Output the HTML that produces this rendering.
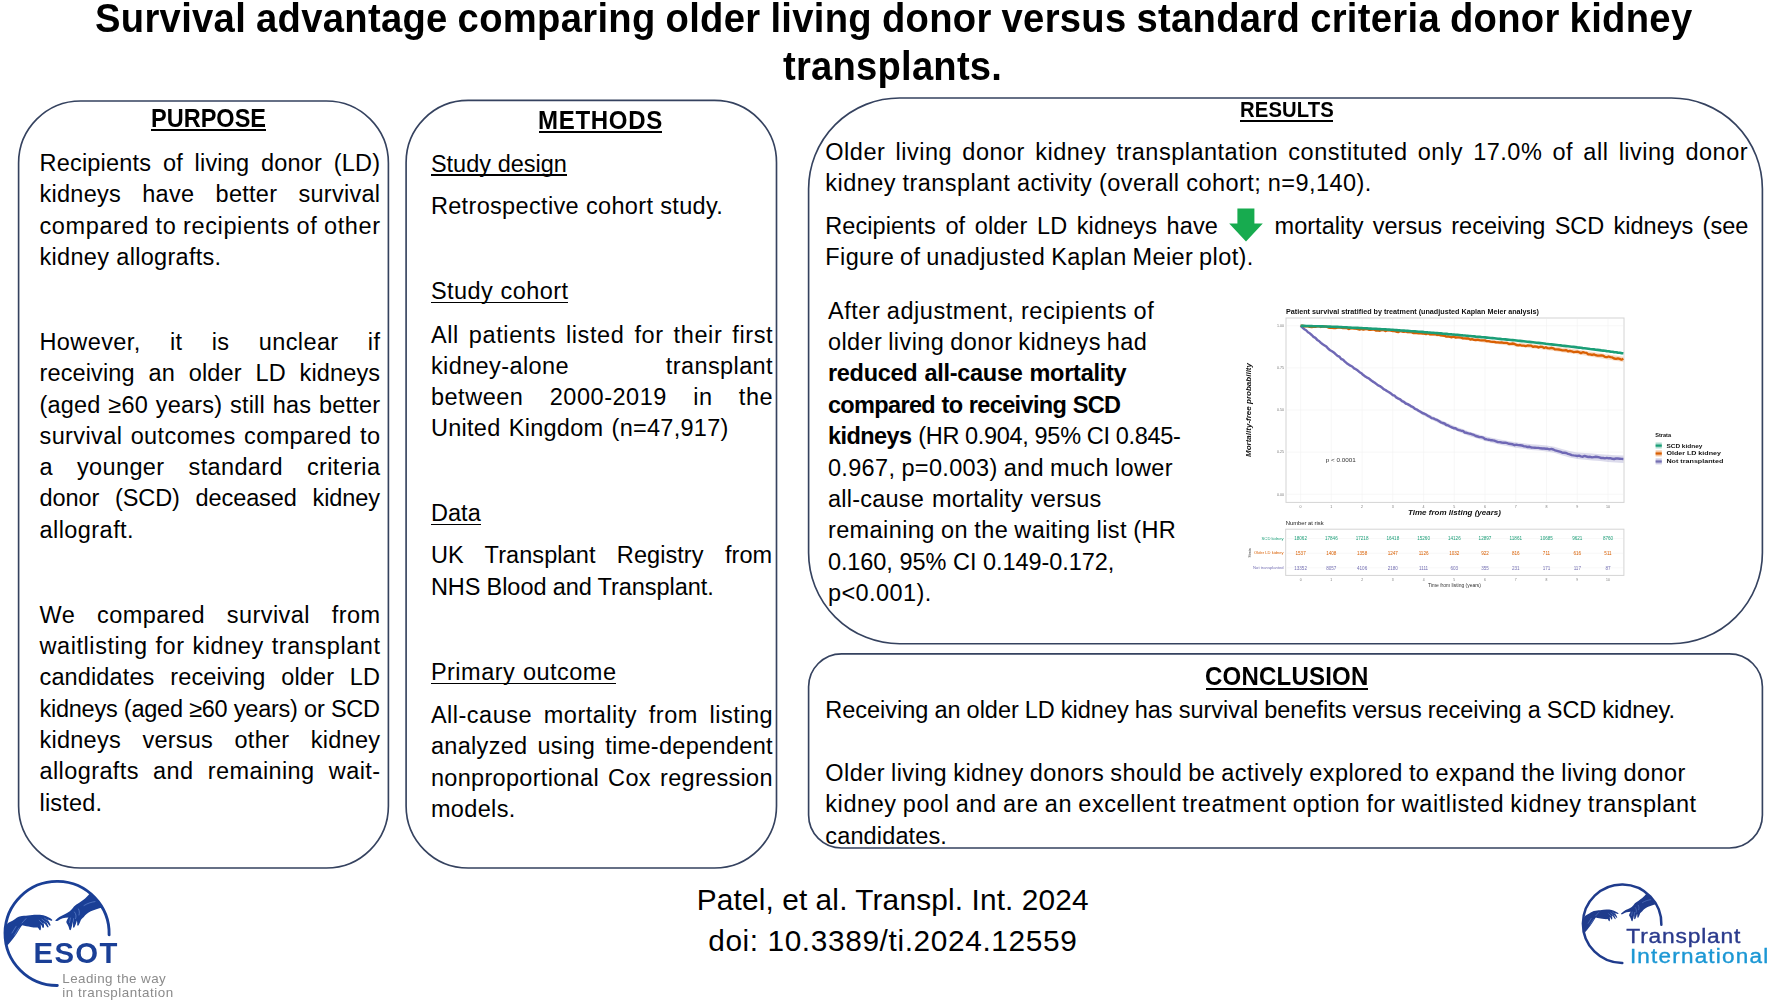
<!DOCTYPE html>
<html lang="en">
<head>
<meta charset="utf-8">
<title>Survival advantage comparing older living donor versus standard criteria donor kidney transplants</title>
<style>
html,body{margin:0;padding:0;background:#fff;}
body{width:1772px;height:1003px;overflow:hidden;font-family:"Liberation Sans",Arial,sans-serif;color:#000;}
#page{position:relative;width:1772px;height:1003px;overflow:hidden;background:#fff;}
.t{position:absolute;white-space:pre;line-height:30px;height:30px;transform-origin:0 50%;color:#000;}
.u{position:absolute;background:#000;}
svg{position:absolute;overflow:visible;}
header,section,footer{display:block;margin:0;padding:0;}
</style>
</head>
<body>
<div id="page">
<!-- rounded panels -->
<svg style="left:0;top:0" width="1772" height="1003" viewBox="0 0 1772 1003" fill="none" stroke="#35425f" stroke-width="1.65">
<rect x="18.6" y="101.0" width="369.8" height="767.0" rx="62" ry="62"/>
<rect x="406.1" y="100.4" width="370.4" height="767.6" rx="62" ry="62"/>
<rect x="808.6" y="98.0" width="953.8" height="545.7" rx="91" ry="91"/>
<rect x="808.6" y="653.8" width="953.8" height="194.2" rx="33" ry="33"/>
</svg>

<!-- text lines -->
<header id="title">
<div class="t" style="left:95.0px;top:3.8px;font-size:40.2px;letter-spacing:0.330px;word-spacing:-1.031px;font-weight:bold;transform:scaleX(0.95)">Survival advantage comparing older living donor versus standard criteria donor kidney</div>
<div class="t" style="left:783.0px;top:52.3px;font-size:40.2px;letter-spacing:0.240px;word-spacing:0.000px;font-weight:bold;transform:scaleX(0.95)">transplants.</div>
</header>
<section id="purpose" aria-label="Purpose">
<div class="t" style="left:150.7px;top:102.7px;font-size:25.3px;letter-spacing:0.000px;word-spacing:0.000px;font-weight:bold;transform:scaleX(0.93)">PURPOSE</div>
<div class="u" style="left:151.4px;top:129.2px;width:114.2px;height:2.0px"></div>
<div class="t" style="left:39.5px;top:147.9px;font-size:23.5px;letter-spacing:0.205px;word-spacing:4.889px">Recipients of living donor (LD)</div>
<div class="t" style="left:39.5px;top:179.2px;font-size:23.5px;letter-spacing:0.263px;word-spacing:14.475px">kidneys have better survival</div>
<div class="t" style="left:39.5px;top:210.5px;font-size:23.5px;letter-spacing:0.610px;word-spacing:-0.440px">compared to recipients of other</div>
<div class="t" style="left:39.5px;top:241.8px;font-size:23.5px;letter-spacing:0.294px;word-spacing:0.262px">kidney allografts.</div>
<div class="t" style="left:39.5px;top:326.9px;font-size:23.5px;letter-spacing:0.394px;word-spacing:22.359px">However, it is unclear if</div>
<div class="t" style="left:39.5px;top:358.2px;font-size:23.5px;letter-spacing:0.120px;word-spacing:7.216px">receiving an older LD kidneys</div>
<div class="t" style="left:39.5px;top:389.5px;font-size:23.5px;letter-spacing:0.172px;word-spacing:1.197px">(aged ≥60 years) still has better</div>
<div class="t" style="left:39.5px;top:420.8px;font-size:23.5px;letter-spacing:0.394px;word-spacing:1.417px">survival outcomes compared to</div>
<div class="t" style="left:39.5px;top:452.1px;font-size:23.5px;letter-spacing:0.362px;word-spacing:17.184px">a younger standard criteria</div>
<div class="t" style="left:39.5px;top:483.4px;font-size:23.5px;letter-spacing:-0.098px;word-spacing:9.413px">donor (SCD) deceased kidney</div>
<div class="t" style="left:39.5px;top:514.7px;font-size:23.5px;letter-spacing:0.441px;word-spacing:0.000px">allograft.</div>
<div class="t" style="left:39.5px;top:599.7px;font-size:23.5px;letter-spacing:0.431px;word-spacing:14.861px">We compared survival from</div>
<div class="t" style="left:39.5px;top:631.0px;font-size:23.5px;letter-spacing:0.567px;word-spacing:0.782px">waitlisting for kidney transplant</div>
<div class="t" style="left:39.5px;top:662.3px;font-size:23.5px;letter-spacing:0.133px;word-spacing:9.063px">candidates receiving older LD</div>
<div class="t" style="left:39.5px;top:693.6px;font-size:23.5px;letter-spacing:-0.249px;word-spacing:0.143px">kidneys (aged ≥60 years) or SCD</div>
<div class="t" style="left:39.5px;top:724.9px;font-size:23.5px;letter-spacing:0.247px;word-spacing:14.698px">kidneys versus other kidney</div>
<div class="t" style="left:39.5px;top:756.2px;font-size:23.5px;letter-spacing:0.402px;word-spacing:7.298px">allografts and remaining wait-</div>
<div class="t" style="left:39.5px;top:787.5px;font-size:23.5px;letter-spacing:0.185px;word-spacing:0.000px">listed.</div>
</section>
<section id="methods" aria-label="Methods">
<div class="t" style="left:537.8px;top:104.5px;font-size:25.3px;letter-spacing:0.734px;word-spacing:0.000px;font-weight:bold;transform:scaleX(0.95)">METHODS</div>
<div class="u" style="left:539.0px;top:131.0px;width:123.0px;height:2.0px"></div>
<div class="t" style="left:430.9px;top:148.5px;font-size:23.5px;letter-spacing:-0.004px;word-spacing:0.170px">Study design</div>
<div class="u" style="left:430.6px;top:174.3px;width:136.2px;height:1.7px"></div>
<div class="t" style="left:430.9px;top:190.8px;font-size:23.5px;letter-spacing:0.336px;word-spacing:0.131px">Retrospective cohort study.</div>
<div class="t" style="left:430.9px;top:275.8px;font-size:23.5px;letter-spacing:0.446px;word-spacing:0.360px">Study cohort</div>
<div class="u" style="left:430.6px;top:301.6px;width:137.4px;height:1.7px"></div>
<div class="t" style="left:430.9px;top:319.6px;font-size:23.5px;letter-spacing:0.623px;word-spacing:2.718px">All patients listed for their first</div>
<div class="t" style="left:430.9px;top:350.7px;font-size:23.5px;letter-spacing:0.400px;word-spacing:89.920px">kidney-alone transplant</div>
<div class="t" style="left:430.9px;top:381.8px;font-size:23.5px;letter-spacing:0.527px;word-spacing:19.268px">between 2000-2019 in the</div>
<div class="t" style="left:430.9px;top:412.9px;font-size:23.5px;letter-spacing:0.277px;word-spacing:1.395px">United Kingdom (n=47,917)</div>
<div class="t" style="left:430.9px;top:498.0px;font-size:23.5px;letter-spacing:0.087px;word-spacing:0.000px">Data</div>
<div class="u" style="left:430.6px;top:523.8px;width:50.1px;height:1.7px"></div>
<div class="t" style="left:430.9px;top:540.4px;font-size:23.5px;letter-spacing:0.070px;word-spacing:14.769px">UK Transplant Registry from</div>
<div class="t" style="left:430.9px;top:571.5px;font-size:23.5px;letter-spacing:-0.054px;word-spacing:-0.237px">NHS Blood and Transplant.</div>
<div class="t" style="left:430.9px;top:657.0px;font-size:23.5px;letter-spacing:0.486px;word-spacing:0.693px">Primary outcome</div>
<div class="u" style="left:430.6px;top:682.8px;width:185.3px;height:1.7px"></div>
<div class="t" style="left:430.9px;top:700.3px;font-size:23.5px;letter-spacing:0.506px;word-spacing:4.637px">All-cause mortality from listing</div>
<div class="t" style="left:430.9px;top:731.4px;font-size:23.5px;letter-spacing:0.316px;word-spacing:3.112px">analyzed using time-dependent</div>
<div class="t" style="left:430.9px;top:762.5px;font-size:23.5px;letter-spacing:0.314px;word-spacing:2.346px">nonproportional Cox regression</div>
<div class="t" style="left:430.9px;top:793.7px;font-size:23.5px;letter-spacing:0.353px;word-spacing:0.000px">models.</div>
</section>
<section id="results" aria-label="Results">
<div class="t" style="left:1239.5px;top:94.6px;font-size:21.8px;letter-spacing:0.136px;word-spacing:0.000px;font-weight:bold;transform:scaleX(0.93)">RESULTS</div>
<div class="u" style="left:1240.4px;top:119.6px;width:92.9px;height:2.0px"></div>
<div class="t" style="left:825.3px;top:137.4px;font-size:23.5px;letter-spacing:0.504px;word-spacing:3.203px">Older living donor kidney transplantation constituted only 17.0% of all living donor</div>
<div class="t" style="left:825.3px;top:168.2px;font-size:23.5px;letter-spacing:0.438px;word-spacing:-0.248px">kidney transplant activity (overall cohort; n=9,140).</div>
<div class="t" style="left:825.3px;top:211.4px;font-size:23.5px;letter-spacing:0.074px;word-spacing:3.016px">Recipients of older LD kidneys have</div>
<div class="t" style="left:1274.6px;top:211.4px;font-size:23.5px;letter-spacing:0.008px;word-spacing:2.729px">mortality versus receiving SCD kidneys (see</div>
<div class="t" style="left:825.3px;top:242.3px;font-size:23.5px;letter-spacing:0.392px;word-spacing:-1.061px">Figure of unadjusted Kaplan Meier plot).</div>
<div class="t" style="left:827.9px;top:295.6px;font-size:23.5px;letter-spacing:0.561px;word-spacing:-0.636px">After adjustment, recipients of</div>
<div class="t" style="left:827.9px;top:327.0px;font-size:23.5px;letter-spacing:0.437px;word-spacing:-1.146px">older living donor kidneys had</div>
<div class="t" style="left:827.9px;top:358.4px;font-size:23.5px;letter-spacing:-0.270px;word-spacing:0.702px;font-weight:bold">reduced all-cause mortality</div>
<div class="t" style="left:827.9px;top:389.8px;font-size:23.5px;letter-spacing:-0.643px;word-spacing:0.549px;font-weight:bold">compared to receiving SCD</div>
<div class="t" style="left:827.9px;top:421.2px;font-size:23.5px;letter-spacing:-0.536px;word-spacing:0.000px;font-weight:bold">kidneys</div>
<div class="t" style="left:918.2px;top:421.2px;font-size:23.5px;letter-spacing:-0.301px;word-spacing:-0.218px">(HR 0.904, 95% CI 0.845-</div>
<div class="t" style="left:827.9px;top:452.6px;font-size:23.5px;letter-spacing:0.347px;word-spacing:-0.794px">0.967, p=0.003) and much lower</div>
<div class="t" style="left:827.9px;top:484.0px;font-size:23.5px;letter-spacing:0.249px;word-spacing:1.027px">all-cause mortality versus</div>
<div class="t" style="left:827.9px;top:515.4px;font-size:23.5px;letter-spacing:0.411px;word-spacing:-0.706px">remaining on the waiting list (HR</div>
<div class="t" style="left:827.9px;top:546.8px;font-size:23.5px;letter-spacing:-0.079px;word-spacing:0.284px">0.160, 95% CI 0.149-0.172,</div>
<div class="t" style="left:827.9px;top:578.2px;font-size:23.5px;letter-spacing:0.443px;word-spacing:0.000px">p&lt;0.001).</div>
</section>
<section id="conclusion" aria-label="Conclusion">
<div class="t" style="left:1204.8px;top:661.2px;font-size:25.3px;letter-spacing:0.199px;word-spacing:0.000px;font-weight:bold;transform:scaleX(0.95)">CONCLUSION</div>
<div class="u" style="left:1205.5px;top:687.7px;width:162.4px;height:2.0px"></div>
<div class="t" style="left:825.3px;top:694.6px;font-size:23.5px;letter-spacing:-0.013px;word-spacing:-0.473px">Receiving an older LD kidney has survival benefits versus receiving a SCD kidney.</div>
<div class="t" style="left:825.3px;top:757.8px;font-size:23.5px;letter-spacing:0.428px;word-spacing:-0.857px">Older living kidney donors should be actively explored to expand the living donor</div>
<div class="t" style="left:825.3px;top:789.2px;font-size:23.5px;letter-spacing:0.559px;word-spacing:-0.840px">kidney pool and are an excellent treatment option for waitlisted kidney transplant</div>
<div class="t" style="left:825.3px;top:820.6px;font-size:23.5px;letter-spacing:0.140px;word-spacing:0.000px">candidates.</div>
</section>
<footer id="citation">
<div class="t" style="left:696.7px;top:884.9px;font-size:29.8px;letter-spacing:0.190px;word-spacing:-0.314px">Patel, et al. Transpl. Int. 2024</div>
<div class="t" style="left:708.2px;top:925.5px;font-size:29.8px;letter-spacing:0.636px;word-spacing:-0.242px">doi: 10.3389/ti.2024.12559</div>
</footer>
<!-- green down arrow -->
<svg style="left:1229px;top:208px" width="34" height="34" viewBox="0 0 34 34"><polygon points="8.4,0.5 25.4,0.5 25.4,15.6 33.8,15.6 17,33.6 0.2,15.6 8.4,15.6" fill="#17ab4f"/></svg>
<!-- Kaplan Meier figure -->
<svg style="left:0;top:0" width="1772" height="1003" viewBox="0 0 1772 1003" font-family="'Liberation Sans',Arial,sans-serif">
<g style="filter:blur(0.55px)">
<text x="1286" y="314.2" font-size="6.4" font-weight="bold" fill="#111" textLength="253" lengthAdjust="spacingAndGlyphs">Patient survival stratified by treatment (unadjusted Kaplan Meier analysis)</text>
<rect x="1286.0" y="318.0" width="338.0" height="184.39999999999998" fill="#fff" stroke="#d4d4d4" stroke-width="1"/>
<path d="M1300.6,319.0V501.4M1331.3,319.0V501.4M1362.1,319.0V501.4M1392.8,319.0V501.4M1423.6,319.0V501.4M1454.3,319.0V501.4M1485.0,319.0V501.4M1515.8,319.0V501.4M1546.5,319.0V501.4M1577.3,319.0V501.4M1608.0,319.0V501.4M1287.0,325.8H1623.0M1287.0,367.9H1623.0M1287.0,410.0H1623.0M1287.0,452.1H1623.0M1287.0,494.2H1623.0" stroke="#f3f3f3" stroke-width="0.7" fill="none"/>
<text x="1284" y="327.1" font-size="3.6" fill="#777" text-anchor="end">1.00</text>
<text x="1284" y="369.2" font-size="3.6" fill="#777" text-anchor="end">0.75</text>
<text x="1284" y="411.3" font-size="3.6" fill="#777" text-anchor="end">0.50</text>
<text x="1284" y="453.4" font-size="3.6" fill="#777" text-anchor="end">0.25</text>
<text x="1284" y="495.5" font-size="3.6" fill="#777" text-anchor="end">0.00</text>
<text x="1300.6" y="507.6" font-size="3.6" fill="#777" text-anchor="middle">0</text>
<text x="1331.3" y="507.6" font-size="3.6" fill="#777" text-anchor="middle">1</text>
<text x="1362.1" y="507.6" font-size="3.6" fill="#777" text-anchor="middle">2</text>
<text x="1392.8" y="507.6" font-size="3.6" fill="#777" text-anchor="middle">3</text>
<text x="1423.6" y="507.6" font-size="3.6" fill="#777" text-anchor="middle">4</text>
<text x="1454.3" y="507.6" font-size="3.6" fill="#777" text-anchor="middle">5</text>
<text x="1485.0" y="507.6" font-size="3.6" fill="#777" text-anchor="middle">6</text>
<text x="1515.8" y="507.6" font-size="3.6" fill="#777" text-anchor="middle">7</text>
<text x="1546.5" y="507.6" font-size="3.6" fill="#777" text-anchor="middle">8</text>
<text x="1577.3" y="507.6" font-size="3.6" fill="#777" text-anchor="middle">9</text>
<text x="1608.0" y="507.6" font-size="3.6" fill="#777" text-anchor="middle">10</text>
<text x="1454.5" y="514.9" font-size="7.6" font-weight="bold" font-style="italic" fill="#111" text-anchor="middle" textLength="93" lengthAdjust="spacingAndGlyphs">Time from listing (years)</text>
<text transform="translate(1251.2,410) rotate(-90)" font-size="7.4" font-weight="bold" font-style="italic" fill="#111" text-anchor="middle" textLength="94" lengthAdjust="spacingAndGlyphs">Mortality-free probability</text>
<text x="1325.8" y="462" font-size="5.2" fill="#333" textLength="30" lengthAdjust="spacingAndGlyphs">p &lt; 0.0001</text>
<polygon points="1300.6,325.1 1308.3,331.4 1316.0,337.6 1323.7,343.8 1331.3,349.9 1339.0,355.8 1346.7,361.7 1354.4,367.1 1362.1,372.5 1369.8,377.9 1377.4,383.3 1385.1,388.4 1392.8,393.5 1400.5,398.2 1408.2,402.9 1415.9,407.4 1423.6,411.9 1431.2,415.6 1438.9,419.3 1446.6,422.6 1454.3,425.9 1462.0,428.8 1469.7,431.7 1477.4,433.9 1485.0,436.2 1492.7,437.9 1500.4,439.6 1508.1,441.0 1515.8,442.3 1523.5,443.3 1531.1,444.2 1538.8,444.8 1546.5,445.4 1554.2,446.7 1561.9,449.1 1569.6,451.0 1577.3,452.5 1584.9,453.1 1592.6,453.6 1600.3,454.2 1608.0,454.8 1615.7,455.2 1623.4,455.6 1623.4,463.0 1615.7,462.4 1608.0,461.9 1600.3,461.1 1592.6,460.4 1584.9,459.7 1577.3,459.1 1569.6,457.4 1561.9,455.3 1554.2,452.8 1546.5,451.4 1538.8,450.6 1531.1,449.9 1523.5,448.8 1515.8,447.7 1508.1,446.2 1500.4,444.7 1492.7,442.9 1485.0,441.0 1477.4,438.6 1469.7,436.2 1462.0,433.2 1454.3,430.1 1446.6,426.7 1438.9,423.3 1431.2,419.4 1423.6,415.5 1415.9,410.9 1408.2,406.3 1400.5,401.4 1392.8,396.6 1385.1,391.3 1377.4,386.1 1369.8,380.6 1362.1,375.0 1354.4,369.5 1346.7,364.0 1339.0,357.9 1331.3,351.9 1323.7,345.6 1316.0,339.2 1308.3,332.9 1300.6,326.5" fill="#7570b3" opacity="0.25"/>
<polygon points="1300.6,325.3 1308.3,325.7 1316.0,326.0 1323.7,326.4 1331.3,326.8 1339.0,327.2 1346.7,327.6 1354.4,328.0 1362.1,328.4 1369.8,328.8 1377.4,329.2 1385.1,329.5 1392.8,329.9 1400.5,330.4 1408.2,331.0 1415.9,331.5 1423.6,332.0 1431.2,332.9 1438.9,333.7 1446.6,334.5 1454.3,335.4 1462.0,336.3 1469.7,337.3 1477.4,338.2 1485.0,339.2 1492.7,340.0 1500.4,340.9 1508.1,341.7 1515.8,342.5 1523.5,343.3 1531.1,344.1 1538.8,344.9 1546.5,345.7 1554.2,346.6 1561.9,347.6 1569.6,348.6 1577.3,349.5 1584.9,350.7 1592.6,351.9 1600.3,353.2 1608.0,354.4 1615.7,355.5 1623.4,356.7 1623.4,362.1 1615.7,360.8 1608.0,359.5 1600.3,358.2 1592.6,356.9 1584.9,355.6 1577.3,354.3 1569.6,353.2 1561.9,352.2 1554.2,351.1 1546.5,350.0 1538.8,349.1 1531.1,348.2 1523.5,347.3 1515.8,346.5 1508.1,345.5 1500.4,344.6 1492.7,343.6 1485.0,342.7 1477.4,341.6 1469.7,340.6 1462.0,339.5 1454.3,338.5 1446.6,337.5 1438.9,336.6 1431.2,335.7 1423.6,334.7 1415.9,334.1 1408.2,333.4 1400.5,332.8 1392.8,332.1 1385.1,331.7 1377.4,331.2 1369.8,330.7 1362.1,330.3 1354.4,329.7 1346.7,329.2 1339.0,328.7 1331.3,328.2 1323.7,327.7 1316.0,327.3 1308.3,326.8 1300.6,326.3" fill="#d95f02" opacity="0.22"/>
<path d="M1300.6,325.8L1302.4,327.5L1304.3,329.2L1306.1,330.2L1308.0,332.3L1309.8,333.3L1311.7,335.0L1313.5,336.9L1315.4,337.9L1317.2,339.9L1319.0,341.0L1320.9,342.9L1322.7,344.3L1324.6,345.5L1326.4,346.6L1328.3,348.8L1330.1,350.2L1332.0,351.2L1333.8,352.4L1335.6,354.2L1337.5,355.8L1339.3,356.6L1341.2,359.0L1343.0,359.6L1344.9,361.6L1346.7,363.2L1348.6,364.5L1350.4,365.7L1352.2,366.5L1354.1,368.4L1355.9,369.3L1357.8,370.6L1359.6,372.2L1361.5,373.3L1363.3,375.1L1365.2,376.4L1367.0,377.6L1368.8,378.4L1370.7,380.0L1372.5,381.4L1374.4,382.5L1376.2,383.9L1378.1,385.4L1379.9,386.1L1381.8,387.4L1383.6,389.1L1385.4,390.0L1387.3,391.3L1389.1,392.2L1391.0,393.5L1392.8,395.2L1394.7,395.7L1396.5,397.7L1398.4,398.6L1400.2,399.4L1402.0,401.1L1403.9,401.9L1405.7,403.5L1407.6,404.1L1409.4,405.1L1411.3,406.4L1413.1,407.1L1415.0,408.8L1416.8,409.5L1418.6,410.7L1420.5,411.8L1422.3,413.0L1424.2,413.7L1426.0,414.5L1427.9,415.9L1429.7,416.6L1431.6,418.1L1433.4,418.4L1435.2,419.3L1437.1,419.9L1438.9,421.0L1440.8,422.3L1442.6,423.0L1444.5,423.5L1446.3,425.0L1448.2,425.4L1450.0,426.5L1451.8,427.3L1453.7,428.2L1455.5,428.2L1457.4,429.6L1459.2,430.2L1461.1,430.7L1462.9,430.9L1464.8,432.5L1466.6,432.8L1468.4,433.4L1470.3,433.7L1472.1,434.3L1474.0,434.9L1475.8,436.0L1477.7,436.5L1479.5,437.1L1481.4,437.1L1483.2,437.6L1485.0,439.0L1486.9,439.4L1488.7,439.7L1490.6,440.2L1492.4,440.3L1494.3,440.7L1496.1,441.4L1498.0,442.1L1499.8,442.1L1501.6,442.5L1503.5,442.7L1505.3,442.6L1507.2,443.2L1509.0,443.8L1510.9,444.0L1512.7,444.3L1514.6,445.2L1516.4,444.7L1518.2,445.1L1520.1,445.2L1521.9,445.5L1523.8,446.2L1525.6,446.4L1527.5,447.0L1529.3,446.7L1531.1,447.5L1533.0,447.6L1534.8,447.7L1536.7,447.9L1538.5,447.9L1540.4,448.3L1542.2,448.5L1544.1,448.5L1545.9,448.7L1547.7,448.8L1549.6,449.4L1551.4,448.9L1553.3,449.5L1555.1,450.3L1557.0,450.8L1558.8,451.3L1560.7,451.9L1562.5,452.8L1564.3,452.7L1566.2,453.0L1568.0,453.9L1569.9,454.3L1571.7,455.1L1573.6,455.4L1575.4,455.6L1577.3,456.0L1579.1,455.6L1580.9,456.4L1582.8,456.7L1584.6,455.9L1586.5,456.5L1588.3,457.0L1590.2,456.8L1592.0,457.4L1593.9,457.1L1595.7,456.8L1597.5,457.0L1599.4,457.4L1601.2,458.0L1603.1,458.0L1604.9,458.4L1606.8,457.9L1608.6,458.3L1610.5,458.2L1612.3,458.8L1614.1,459.0L1616.0,458.5L1617.8,458.5L1619.7,458.7L1621.5,458.9L1623.4,459.0" stroke="#6f68b5" stroke-width="2.4" fill="none" stroke-linejoin="round"/>
<path d="M1300.6,325.8L1302.4,325.6L1304.3,326.4L1306.1,326.1L1308.0,326.4L1309.8,326.9L1311.7,327.0L1313.5,326.8L1315.4,326.9L1317.2,326.4L1319.0,326.2L1320.9,327.0L1322.7,326.4L1324.6,326.5L1326.4,326.6L1328.3,327.5L1330.1,327.8L1332.0,327.9L1333.8,328.0L1335.6,328.1L1337.5,327.7L1339.3,327.4L1341.2,327.6L1343.0,328.2L1344.9,328.1L1346.7,328.0L1348.6,329.1L1350.4,328.4L1352.2,328.2L1354.1,328.5L1355.9,328.6L1357.8,329.1L1359.6,329.6L1361.5,328.9L1363.3,329.6L1365.2,329.1L1367.0,329.0L1368.8,329.8L1370.7,329.9L1372.5,329.3L1374.4,329.7L1376.2,330.6L1378.1,330.7L1379.9,330.8L1381.8,329.9L1383.6,330.1L1385.4,331.1L1387.3,330.3L1389.1,330.2L1391.0,330.7L1392.8,331.2L1394.7,331.1L1396.5,331.8L1398.4,332.1L1400.2,331.0L1402.0,331.5L1403.9,331.8L1405.7,331.4L1407.6,332.2L1409.4,331.8L1411.3,332.0L1413.1,333.0L1415.0,333.1L1416.8,333.1L1418.6,333.4L1420.5,333.0L1422.3,333.6L1424.2,333.6L1426.0,334.2L1427.9,333.3L1429.7,334.3L1431.6,334.4L1433.4,334.4L1435.2,334.2L1437.1,335.0L1438.9,334.6L1440.8,335.4L1442.6,335.5L1444.5,335.8L1446.3,336.6L1448.2,336.3L1450.0,336.8L1451.8,337.3L1453.7,336.4L1455.5,337.5L1457.4,337.4L1459.2,337.3L1461.1,337.7L1462.9,338.3L1464.8,338.3L1466.6,338.5L1468.4,338.4L1470.3,339.5L1472.1,339.2L1474.0,339.8L1475.8,340.0L1477.7,339.6L1479.5,340.2L1481.4,340.4L1483.2,340.4L1485.0,340.4L1486.9,341.2L1488.7,341.2L1490.6,341.6L1492.4,341.8L1494.3,341.8L1496.1,342.3L1498.0,342.4L1499.8,342.7L1501.6,342.3L1503.5,342.8L1505.3,342.8L1507.2,342.9L1509.0,344.0L1510.9,343.8L1512.7,343.5L1514.6,343.9L1516.4,345.0L1518.2,345.3L1520.1,345.0L1521.9,345.7L1523.8,345.7L1525.6,346.1L1527.5,345.5L1529.3,345.6L1531.1,345.6L1533.0,346.8L1534.8,346.3L1536.7,346.6L1538.5,347.5L1540.4,346.7L1542.2,346.8L1544.1,348.0L1545.9,347.2L1547.7,348.2L1549.6,348.3L1551.4,347.8L1553.3,348.3L1555.1,349.4L1557.0,349.3L1558.8,349.5L1560.7,349.9L1562.5,350.4L1564.3,350.4L1566.2,350.1L1568.0,351.3L1569.9,350.9L1571.7,351.3L1573.6,352.1L1575.4,351.9L1577.3,351.7L1579.1,352.2L1580.9,353.1L1582.8,352.2L1584.6,352.7L1586.5,352.8L1588.3,354.3L1590.2,354.3L1592.0,354.9L1593.9,354.3L1595.7,355.2L1597.5,355.7L1599.4,355.6L1601.2,355.3L1603.1,355.7L1604.9,356.8L1606.8,357.2L1608.6,356.5L1610.5,357.2L1612.3,357.4L1614.1,358.5L1616.0,358.8L1617.8,358.3L1619.7,358.9L1621.5,359.7L1623.4,358.8" stroke="#d95f02" stroke-width="2.3" fill="none" stroke-linejoin="round"/>
<path d="M1300.6,325.8L1302.4,325.9L1304.3,325.9L1306.1,326.0L1308.0,326.0L1309.8,326.1L1311.7,326.1L1313.5,326.2L1315.4,326.2L1317.2,326.3L1319.0,326.3L1320.9,326.4L1322.7,326.4L1324.6,326.5L1326.4,326.5L1328.3,326.6L1330.1,326.6L1332.0,326.7L1333.8,326.8L1335.6,326.9L1337.5,326.9L1339.3,327.0L1341.2,327.1L1343.0,327.2L1344.9,327.3L1346.7,327.4L1348.6,327.5L1350.4,327.6L1352.2,327.7L1354.1,327.8L1355.9,327.9L1357.8,327.9L1359.6,328.0L1361.5,328.1L1363.3,328.2L1365.2,328.3L1367.0,328.4L1368.8,328.5L1370.7,328.6L1372.5,328.7L1374.4,328.8L1376.2,328.9L1378.1,329.0L1379.9,329.1L1381.8,329.2L1383.6,329.3L1385.4,329.4L1387.3,329.5L1389.1,329.6L1391.0,329.7L1392.8,329.8L1394.7,330.0L1396.5,330.1L1398.4,330.2L1400.2,330.4L1402.0,330.5L1403.9,330.6L1405.7,330.8L1407.6,330.9L1409.4,331.0L1411.3,331.2L1413.1,331.3L1415.0,331.4L1416.8,331.5L1418.6,331.7L1420.5,331.8L1422.3,331.9L1424.2,332.1L1426.0,332.2L1427.9,332.4L1429.7,332.5L1431.6,332.7L1433.4,332.8L1435.2,333.0L1437.1,333.1L1438.9,333.3L1440.8,333.4L1442.6,333.6L1444.5,333.7L1446.3,333.9L1448.2,334.1L1450.0,334.2L1451.8,334.4L1453.7,334.5L1455.5,334.7L1457.4,334.8L1459.2,335.0L1461.1,335.2L1462.9,335.4L1464.8,335.5L1466.6,335.7L1468.4,335.9L1470.3,336.0L1472.1,336.2L1474.0,336.4L1475.8,336.6L1477.7,336.7L1479.5,336.9L1481.4,337.1L1483.2,337.2L1485.0,337.4L1486.9,337.6L1488.7,337.8L1490.6,338.0L1492.4,338.1L1494.3,338.3L1496.1,338.5L1498.0,338.7L1499.8,338.9L1501.6,339.1L1503.5,339.2L1505.3,339.4L1507.2,339.6L1509.0,339.8L1510.9,340.0L1512.7,340.1L1514.6,340.3L1516.4,340.5L1518.2,340.7L1520.1,340.9L1521.9,341.1L1523.8,341.3L1525.6,341.5L1527.5,341.7L1529.3,341.9L1531.1,342.1L1533.0,342.3L1534.8,342.5L1536.7,342.7L1538.5,342.9L1540.4,343.1L1542.2,343.3L1544.1,343.5L1545.9,343.8L1547.7,344.0L1549.6,344.2L1551.4,344.4L1553.3,344.6L1555.1,344.8L1557.0,345.0L1558.8,345.2L1560.7,345.4L1562.5,345.7L1564.3,345.9L1566.2,346.1L1568.0,346.3L1569.9,346.5L1571.7,346.7L1573.6,346.9L1575.4,347.1L1577.3,347.4L1579.1,347.6L1580.9,347.8L1582.8,348.1L1584.6,348.3L1586.5,348.5L1588.3,348.7L1590.2,349.0L1592.0,349.2L1593.9,349.4L1595.7,349.7L1597.5,349.9L1599.4,350.1L1601.2,350.4L1603.1,350.6L1604.9,350.8L1606.8,351.1L1608.6,351.3L1610.5,351.6L1612.3,351.8L1614.1,352.1L1616.0,352.3L1617.8,352.6L1619.7,352.8L1621.5,353.1L1623.4,353.3" stroke="#1b9e77" stroke-width="2.6" fill="none" stroke-linejoin="round"/>
<text x="1655.2" y="437" font-size="5.6" font-weight="bold" fill="#111">Strata</text>
<rect x="1655.6" y="442.5" width="6.2" height="6" fill="#1b9e77" opacity="0.35"/><rect x="1655.6" y="444.5" width="6.2" height="2.2" fill="#1b9e77"/>
<text x="1666.4" y="447.5" font-size="5.6" font-weight="bold" fill="#111" textLength="36" lengthAdjust="spacingAndGlyphs">SCD kidney</text>
<rect x="1655.6" y="450.4" width="6.2" height="6" fill="#d95f02" opacity="0.35"/><rect x="1655.6" y="452.4" width="6.2" height="2.2" fill="#d95f02"/>
<text x="1666.4" y="455.4" font-size="5.6" font-weight="bold" fill="#111" textLength="54.5" lengthAdjust="spacingAndGlyphs">Older LD kidney</text>
<rect x="1655.6" y="458.4" width="6.2" height="6" fill="#7570b3" opacity="0.35"/><rect x="1655.6" y="460.4" width="6.2" height="2.2" fill="#7570b3"/>
<text x="1666.4" y="463.4" font-size="5.6" font-weight="bold" fill="#111" textLength="57" lengthAdjust="spacingAndGlyphs">Not transplanted</text>
<text x="1285.7" y="525.4" font-size="4.8" fill="#222" textLength="38" lengthAdjust="spacingAndGlyphs">Number at risk</text>
<rect x="1285.7" y="529.2" width="338.2" height="46.2" fill="#fff" stroke="#d4d4d4" stroke-width="1"/>
<text x="1283.6" y="539.6" font-size="3.6" fill="#1b9e77" text-anchor="end" textLength="22" lengthAdjust="spacingAndGlyphs">SCD kidney</text>
<path d="M1287.0,538.6H1623.0" stroke="#f1f1f1" stroke-width="0.6"/>
<text x="1300.6" y="540.3" font-size="4.6" fill="#1b9e77" text-anchor="middle">18062</text>
<text x="1331.3" y="540.3" font-size="4.6" fill="#1b9e77" text-anchor="middle">17846</text>
<text x="1362.1" y="540.3" font-size="4.6" fill="#1b9e77" text-anchor="middle">17218</text>
<text x="1392.8" y="540.3" font-size="4.6" fill="#1b9e77" text-anchor="middle">16418</text>
<text x="1423.6" y="540.3" font-size="4.6" fill="#1b9e77" text-anchor="middle">15260</text>
<text x="1454.3" y="540.3" font-size="4.6" fill="#1b9e77" text-anchor="middle">14126</text>
<text x="1485.0" y="540.3" font-size="4.6" fill="#1b9e77" text-anchor="middle">12897</text>
<text x="1515.8" y="540.3" font-size="4.6" fill="#1b9e77" text-anchor="middle">11861</text>
<text x="1546.5" y="540.3" font-size="4.6" fill="#1b9e77" text-anchor="middle">10685</text>
<text x="1577.3" y="540.3" font-size="4.6" fill="#1b9e77" text-anchor="middle">9621</text>
<text x="1608.0" y="540.3" font-size="4.6" fill="#1b9e77" text-anchor="middle">8760</text>
<text x="1283.6" y="554.2" font-size="3.6" fill="#d95f02" text-anchor="end" textLength="29.5" lengthAdjust="spacingAndGlyphs">Older LD kidney</text>
<path d="M1287.0,553.2H1623.0" stroke="#f1f1f1" stroke-width="0.6"/>
<text x="1300.6" y="554.9" font-size="4.6" fill="#d95f02" text-anchor="middle">1537</text>
<text x="1331.3" y="554.9" font-size="4.6" fill="#d95f02" text-anchor="middle">1408</text>
<text x="1362.1" y="554.9" font-size="4.6" fill="#d95f02" text-anchor="middle">1358</text>
<text x="1392.8" y="554.9" font-size="4.6" fill="#d95f02" text-anchor="middle">1247</text>
<text x="1423.6" y="554.9" font-size="4.6" fill="#d95f02" text-anchor="middle">1126</text>
<text x="1454.3" y="554.9" font-size="4.6" fill="#d95f02" text-anchor="middle">1032</text>
<text x="1485.0" y="554.9" font-size="4.6" fill="#d95f02" text-anchor="middle">922</text>
<text x="1515.8" y="554.9" font-size="4.6" fill="#d95f02" text-anchor="middle">816</text>
<text x="1546.5" y="554.9" font-size="4.6" fill="#d95f02" text-anchor="middle">711</text>
<text x="1577.3" y="554.9" font-size="4.6" fill="#d95f02" text-anchor="middle">616</text>
<text x="1608.0" y="554.9" font-size="4.6" fill="#d95f02" text-anchor="middle">511</text>
<text x="1283.6" y="568.8" font-size="3.6" fill="#7570b3" text-anchor="end" textLength="30.5" lengthAdjust="spacingAndGlyphs">Not transplanted</text>
<path d="M1287.0,567.8H1623.0" stroke="#f1f1f1" stroke-width="0.6"/>
<text x="1300.6" y="569.5" font-size="4.6" fill="#7570b3" text-anchor="middle">13352</text>
<text x="1331.3" y="569.5" font-size="4.6" fill="#7570b3" text-anchor="middle">8057</text>
<text x="1362.1" y="569.5" font-size="4.6" fill="#7570b3" text-anchor="middle">4106</text>
<text x="1392.8" y="569.5" font-size="4.6" fill="#7570b3" text-anchor="middle">2180</text>
<text x="1423.6" y="569.5" font-size="4.6" fill="#7570b3" text-anchor="middle">1111</text>
<text x="1454.3" y="569.5" font-size="4.6" fill="#7570b3" text-anchor="middle">603</text>
<text x="1485.0" y="569.5" font-size="4.6" fill="#7570b3" text-anchor="middle">355</text>
<text x="1515.8" y="569.5" font-size="4.6" fill="#7570b3" text-anchor="middle">231</text>
<text x="1546.5" y="569.5" font-size="4.6" fill="#7570b3" text-anchor="middle">171</text>
<text x="1577.3" y="569.5" font-size="4.6" fill="#7570b3" text-anchor="middle">117</text>
<text x="1608.0" y="569.5" font-size="4.6" fill="#7570b3" text-anchor="middle">87</text>
<text transform="translate(1251,553) rotate(-90)" font-size="3.4" fill="#333" text-anchor="middle">Strata</text>
<text x="1300.6" y="581.3" font-size="3.4" fill="#777" text-anchor="middle">0</text>
<text x="1331.3" y="581.3" font-size="3.4" fill="#777" text-anchor="middle">1</text>
<text x="1362.1" y="581.3" font-size="3.4" fill="#777" text-anchor="middle">2</text>
<text x="1392.8" y="581.3" font-size="3.4" fill="#777" text-anchor="middle">3</text>
<text x="1423.6" y="581.3" font-size="3.4" fill="#777" text-anchor="middle">4</text>
<text x="1454.3" y="581.3" font-size="3.4" fill="#777" text-anchor="middle">5</text>
<text x="1485.0" y="581.3" font-size="3.4" fill="#777" text-anchor="middle">6</text>
<text x="1515.8" y="581.3" font-size="3.4" fill="#777" text-anchor="middle">7</text>
<text x="1546.5" y="581.3" font-size="3.4" fill="#777" text-anchor="middle">8</text>
<text x="1577.3" y="581.3" font-size="3.4" fill="#777" text-anchor="middle">9</text>
<text x="1608.0" y="581.3" font-size="3.4" fill="#777" text-anchor="middle">10</text>
<text x="1454.5" y="587.0" font-size="4.8" fill="#333" text-anchor="middle" textLength="53" lengthAdjust="spacingAndGlyphs">Time from listing (years)</text>
</g></svg>
<!-- ESOT logo + Transplant International logo -->
<svg style="left:0;top:0" width="1772" height="1003" viewBox="0 0 1772 1003" font-family="'Liberation Sans',Arial,sans-serif"><g style="filter:blur(0.35px)">
<g><path d="M109.1,934.9 A52.05,52.05 0 1 0 57.3,985.5" fill="none" stroke="#1a3f96" stroke-width="2.9" stroke-linecap="round"/><path d="M5.2,927.5 L7.7,923.2 C10,921.8 12,921 14,919.7 C16,918.2 17.5,917 19.5,916.5 C23,915.7 25,915.7 27.9,915.5 C31,915.2 33.5,914.8 36.3,914.8 C39,914.8 41,914.8 43.3,915.3 C45.5,915.9 47.2,916.7 48.9,917.6 C50.3,918.3 51.3,919 52.2,919.8 C52.4,920.6 51.9,921 51.2,920.8 C49.8,920.3 48.8,919.8 47.6,919.6 C48.8,921.4 49.9,923.2 50.6,925 C50.5,925.9 49.8,925.9 49.3,925.4 C48.2,923.8 47.2,922.6 46,921.6 C47,923.4 48,925.2 48.6,926.8 C48.4,927.6 47.7,927.6 47.2,927.1 C46,925.2 44.8,923.6 43.4,922.4 C44,924 44.3,925.8 43.8,927.6 C43.2,928.1 42.6,927.9 42.3,927.3 C42,926 41.4,925 40.6,924.2 C41,926.2 41.2,928.2 40.6,930 C40,930.5 39.4,930.2 39.2,929.6 C38.9,928.6 38.4,927.9 37.7,927.4 C35.4,927.6 33,927.3 30.7,926.9 C29.2,926.7 27.9,926.5 26.5,926.3 C25,926 23.6,925.7 22.3,925.3 C21.4,926 20.8,927 20.2,928.1 C19,930 17.9,931.8 16.8,933.6 C15.4,935.6 14,937.4 12.6,939.2 C11.4,940.7 10.2,942.1 9.1,943.4 L7.4,945.6 C5.6,940.5 4.9,934 5.2,927.5 Z" fill="#1a3f96"/><path d="M55.4,920.2 C56.6,919 57.9,917.9 59.3,916.9 C60.9,915.9 62.5,915.1 64.2,914.4 C66.1,913.5 68,912.5 69.8,911.3 C71.4,909.8 72.7,908.1 74,906.4 C75.5,905 77.2,903.9 78.9,902.9 C80.5,901.7 82.2,900.6 83.8,899.4 C85.4,898.2 87.6,896 90.1,892.9 A52.05,52.05 0 0 1 102.4,907.6 C100.4,908.1 98.2,908.6 96.3,909.2 C94.4,909.7 92.6,910.4 90.8,911.3 C89.3,912.1 87.9,913 86.6,914.1 C85.6,915 84.7,915.9 83.8,916.9 C82.8,917.8 81.9,918.7 81,919.7 C80.3,921.6 79.5,923.5 78.6,925.3 C78.1,925.9 77.4,925.8 77.2,925.1 C77.3,923.4 77.3,921.9 76.9,920.4 C76.3,922.8 75.5,925.2 74.4,927.3 C73.9,927.9 73.2,927.8 73,927.1 C73.1,925.2 73.2,923.4 72.9,921.8 C72.4,924.5 71.8,927.3 70.9,929.8 C70.4,930.4 69.7,930.3 69.4,929.6 C69,927.6 68.4,925.8 67.4,924.2 C66.7,923.4 66.2,922.6 66.3,921.8 C66.8,920.3 67.5,918.9 68.4,917.6 C66.5,917.8 64.6,918 62.8,918.3 C61.1,918.9 59.5,919.8 57.9,920.7 C57,921.2 56.2,921.2 55.6,920.9 Z" fill="#1a3f96"/><path d="M22,923 L26,918.6 M12,933 L16,926.5 M14.5,935 L19,928 M44.5,918.2 L47.5,920.3 M42,919.3 L45.6,922.2 M39.2,920.3 L42.6,923.5 M84,905.5 C88,903 92,902 95,901.6 M74.5,912 C76,914 76.5,916.4 75.6,918.6 M78.5,909 C79.5,911 79.6,913 79,915 M70.5,918 L69.5,922.5 M73.6,918.6 L73.2,922" fill="none" stroke="#6d8fd4" stroke-width="0.7" stroke-linecap="round" opacity="0.85"/></g>
<g transform="translate(1579.10,219.84) scale(0.754)"><path d="M109.1,934.9 A52.05,52.05 0 1 0 57.3,985.5" fill="none" stroke="#1f3b8c" stroke-width="3.3" stroke-linecap="round"/><path d="M5.2,927.5 L7.7,923.2 C10,921.8 12,921 14,919.7 C16,918.2 17.5,917 19.5,916.5 C23,915.7 25,915.7 27.9,915.5 C31,915.2 33.5,914.8 36.3,914.8 C39,914.8 41,914.8 43.3,915.3 C45.5,915.9 47.2,916.7 48.9,917.6 C50.3,918.3 51.3,919 52.2,919.8 C52.4,920.6 51.9,921 51.2,920.8 C49.8,920.3 48.8,919.8 47.6,919.6 C48.8,921.4 49.9,923.2 50.6,925 C50.5,925.9 49.8,925.9 49.3,925.4 C48.2,923.8 47.2,922.6 46,921.6 C47,923.4 48,925.2 48.6,926.8 C48.4,927.6 47.7,927.6 47.2,927.1 C46,925.2 44.8,923.6 43.4,922.4 C44,924 44.3,925.8 43.8,927.6 C43.2,928.1 42.6,927.9 42.3,927.3 C42,926 41.4,925 40.6,924.2 C41,926.2 41.2,928.2 40.6,930 C40,930.5 39.4,930.2 39.2,929.6 C38.9,928.6 38.4,927.9 37.7,927.4 C35.4,927.6 33,927.3 30.7,926.9 C29.2,926.7 27.9,926.5 26.5,926.3 C25,926 23.6,925.7 22.3,925.3 C21.4,926 20.8,927 20.2,928.1 C19,930 17.9,931.8 16.8,933.6 C15.4,935.6 14,937.4 12.6,939.2 C11.4,940.7 10.2,942.1 9.1,943.4 L7.4,945.6 C5.6,940.5 4.9,934 5.2,927.5 Z" fill="#1f3b8c"/><path d="M55.4,920.2 C56.6,919 57.9,917.9 59.3,916.9 C60.9,915.9 62.5,915.1 64.2,914.4 C66.1,913.5 68,912.5 69.8,911.3 C71.4,909.8 72.7,908.1 74,906.4 C75.5,905 77.2,903.9 78.9,902.9 C80.5,901.7 82.2,900.6 83.8,899.4 C85.4,898.2 87.6,896 90.1,892.9 A52.05,52.05 0 0 1 102.4,907.6 C100.4,908.1 98.2,908.6 96.3,909.2 C94.4,909.7 92.6,910.4 90.8,911.3 C89.3,912.1 87.9,913 86.6,914.1 C85.6,915 84.7,915.9 83.8,916.9 C82.8,917.8 81.9,918.7 81,919.7 C80.3,921.6 79.5,923.5 78.6,925.3 C78.1,925.9 77.4,925.8 77.2,925.1 C77.3,923.4 77.3,921.9 76.9,920.4 C76.3,922.8 75.5,925.2 74.4,927.3 C73.9,927.9 73.2,927.8 73,927.1 C73.1,925.2 73.2,923.4 72.9,921.8 C72.4,924.5 71.8,927.3 70.9,929.8 C70.4,930.4 69.7,930.3 69.4,929.6 C69,927.6 68.4,925.8 67.4,924.2 C66.7,923.4 66.2,922.6 66.3,921.8 C66.8,920.3 67.5,918.9 68.4,917.6 C66.5,917.8 64.6,918 62.8,918.3 C61.1,918.9 59.5,919.8 57.9,920.7 C57,921.2 56.2,921.2 55.6,920.9 Z" fill="#1f3b8c"/><path d="M22,923 L26,918.6 M12,933 L16,926.5 M14.5,935 L19,928 M44.5,918.2 L47.5,920.3 M42,919.3 L45.6,922.2 M39.2,920.3 L42.6,923.5 M84,905.5 C88,903 92,902 95,901.6 M74.5,912 C76,914 76.5,916.4 75.6,918.6 M78.5,909 C79.5,911 79.6,913 79,915 M70.5,918 L69.5,922.5 M73.6,918.6 L73.2,922" fill="none" stroke="#6d8fd4" stroke-width="0.7" stroke-linecap="round" opacity="0.85"/></g>
<text x="33.6" y="963.0" font-size="29.3" font-weight="bold" fill="#1a3f96" textLength="83.8" lengthAdjust="spacing">ESOT</text>
<text transform="translate(62.3,982.5) scale(1.08,1)" font-size="12.4" fill="#8b8b8b" textLength="95.8" lengthAdjust="spacing">Leading the way</text>
<text transform="translate(62.3,997.1) scale(1.08,1)" font-size="12.4" fill="#8b8b8b" textLength="102.6" lengthAdjust="spacing">in transplantation</text>
<text transform="translate(1626.3,942.7) scale(1.14,1)" font-size="20" fill="#2a3a8c" stroke="#2a3a8c" stroke-width="0.35" textLength="100.0" lengthAdjust="spacing">Transplant</text>
<text transform="translate(1629.9,962.8) scale(1.16,1)" font-size="19.4" fill="#1b97d4" stroke="#1b97d4" stroke-width="0.35" textLength="119.2" lengthAdjust="spacing">International</text>
</g></svg>

</div>
</body>
</html>
